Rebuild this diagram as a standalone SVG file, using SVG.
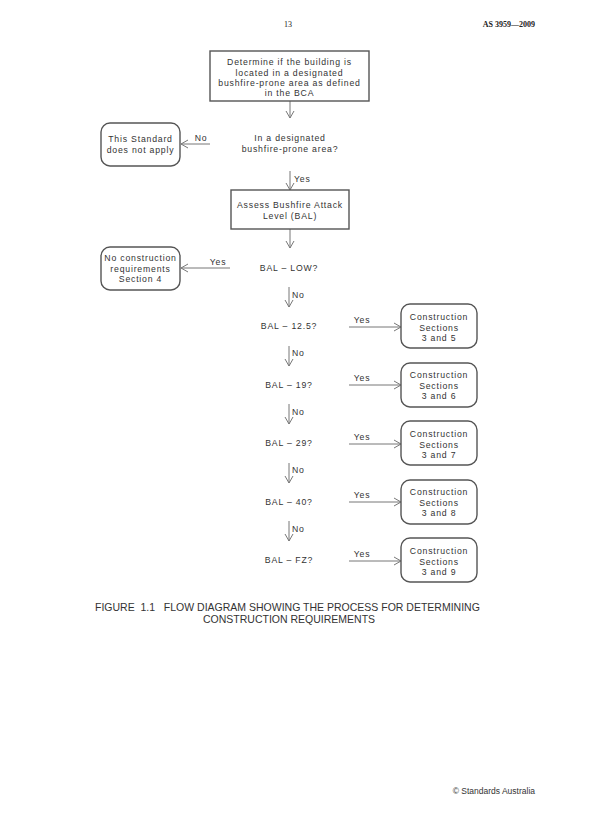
<svg xmlns="http://www.w3.org/2000/svg" width="600" height="823" viewBox="0 0 600 823">
<style>
.t{font-family:"Liberation Sans",Arial,sans-serif;font-size:8.7px;fill:#333;text-anchor:middle;letter-spacing:0.8px}
.s{text-anchor:start}
.box{fill:#fff;stroke:#555;stroke-width:1.4}
.rbox{fill:#fff;stroke:#555;stroke-width:1.4}
.c{stroke:#777;stroke-width:1;fill:none}
.hd{font-family:"Liberation Serif","Times New Roman",serif;font-size:8px;fill:#222}
.cap{font-family:"Liberation Sans",Arial,sans-serif;font-size:10.5px;fill:#333}
</style>
<defs>
<marker id="ah" markerWidth="10" markerHeight="10" refX="8" refY="5" orient="auto" markerUnits="userSpaceOnUse">
<path d="M1,1 L8,5 L1,9" fill="none" stroke="#777" stroke-width="1"/>
</marker>
</defs>
<rect width="600" height="823" fill="#fff"/>
<text class="hd" x="288" y="27" text-anchor="middle">13</text>
<text class="hd" x="535" y="27" text-anchor="end" font-weight="bold">AS 3959—2009</text>

<g id="connectors">
<line class="c" x1="290" y1="101" x2="290" y2="118" marker-end="url(#ah)"/>
<line class="c" x1="210" y1="144" x2="181" y2="144" marker-end="url(#ah)"/>
<line class="c" x1="290" y1="171" x2="290" y2="190" marker-end="url(#ah)"/>
<line class="c" x1="290" y1="229" x2="290" y2="248" marker-end="url(#ah)"/>
<line class="c" x1="230" y1="268" x2="181" y2="268" marker-end="url(#ah)"/>
<line class="c" x1="289" y1="287" x2="289" y2="307" marker-end="url(#ah)"/>
<line class="c" x1="289" y1="346" x2="289" y2="366" marker-end="url(#ah)"/>
<line class="c" x1="289" y1="404" x2="289" y2="424" marker-end="url(#ah)"/>
<line class="c" x1="289" y1="463" x2="289" y2="483" marker-end="url(#ah)"/>
<line class="c" x1="289" y1="521" x2="289" y2="541" marker-end="url(#ah)"/>
<line class="c" x1="349" y1="327" x2="401" y2="327" marker-end="url(#ah)"/>
<line class="c" x1="349" y1="385" x2="401" y2="385" marker-end="url(#ah)"/>
<line class="c" x1="349" y1="444" x2="401" y2="444" marker-end="url(#ah)"/>
<line class="c" x1="349" y1="502" x2="401" y2="502" marker-end="url(#ah)"/>
<line class="c" x1="349" y1="561" x2="401" y2="561" marker-end="url(#ah)"/>
<text class="t" x="201" y="141">No</text>
<text class="t s" x="294" y="182">Yes</text>
<text class="t" x="218" y="265">Yes</text>
<text class="t s" x="292" y="298">No</text>
<text class="t s" x="292" y="356">No</text>
<text class="t s" x="292" y="415">No</text>
<text class="t s" x="292" y="473">No</text>
<text class="t s" x="292" y="532">No</text>
<text class="t" x="362" y="323">Yes</text>
<text class="t" x="362" y="381">Yes</text>
<text class="t" x="362" y="440">Yes</text>
<text class="t" x="362" y="498">Yes</text>
<text class="t" x="362" y="557">Yes</text>
</g>

<g id="n1">
<rect class="box" x="210" y="51" width="159" height="50"/>
<text class="t" x="289.5" y="65">Determine if the building is</text>
<text class="t" x="289.5" y="75.5">located in a designated</text>
<text class="t" x="289.5" y="86">bushfire-prone area as defined</text>
<text class="t" x="289.5" y="96">in the BCA</text>
</g>
<g id="q1">
<text class="t" x="290" y="141">In a designated</text>
<text class="t" x="290" y="151.5">bushfire-prone area?</text>
</g>
<g id="n-notapply">
<rect class="rbox" x="101" y="123" width="79" height="43" rx="9"/>
<text class="t" x="140.5" y="142">This Standard</text>
<text class="t" x="140.5" y="152.5">does not apply</text>
</g>
<g id="n2">
<rect class="box" x="231" y="190" width="118" height="39"/>
<text class="t" x="290" y="208">Assess Bushfire Attack</text>
<text class="t" x="290" y="219">Level (BAL)</text>
</g>
<g id="q-low">
<text class="t" x="289" y="271">BAL – LOW?</text>
</g>
<g id="n-noreq">
<rect class="rbox" x="101" y="247" width="79" height="43" rx="9"/>
<text class="t" x="140.5" y="261">No construction</text>
<text class="t" x="140.5" y="271.5">requirements</text>
<text class="t" x="140.5" y="282">Section 4</text>
</g>
<g id="q-125"><text class="t" x="289" y="329">BAL – 12.5?</text></g>
<g id="q-19"><text class="t" x="289" y="388">BAL – 19?</text></g>
<g id="q-29"><text class="t" x="289" y="446">BAL – 29?</text></g>
<g id="q-40"><text class="t" x="289" y="505">BAL – 40?</text></g>
<g id="q-fz"><text class="t" x="289" y="563">BAL – FZ?</text></g>

<g id="c5">
<rect class="rbox" x="401" y="304" width="76" height="44" rx="9"/>
<text class="t" x="439" y="320">Construction</text>
<text class="t" x="439" y="330.5">Sections</text>
<text class="t" x="439" y="341">3 and 5</text>
</g>
<g id="c6">
<rect class="rbox" x="401" y="363" width="76" height="44" rx="9"/>
<text class="t" x="439" y="378">Construction</text>
<text class="t" x="439" y="388.5">Sections</text>
<text class="t" x="439" y="399">3 and 6</text>
</g>
<g id="c7">
<rect class="rbox" x="401" y="421" width="76" height="44" rx="9"/>
<text class="t" x="439" y="437">Construction</text>
<text class="t" x="439" y="447.5">Sections</text>
<text class="t" x="439" y="458">3 and 7</text>
</g>
<g id="c8">
<rect class="rbox" x="401" y="480" width="76" height="44" rx="9"/>
<text class="t" x="439" y="495">Construction</text>
<text class="t" x="439" y="505.5">Sections</text>
<text class="t" x="439" y="516">3 and 8</text>
</g>
<g id="c9">
<rect class="rbox" x="401" y="538" width="76" height="44" rx="9"/>
<text class="t" x="439" y="554">Construction</text>
<text class="t" x="439" y="564.5">Sections</text>
<text class="t" x="439" y="575">3 and 9</text>
</g>

<text class="cap" x="95" y="611" xml:space="preserve">FIGURE  1.1   FLOW DIAGRAM SHOWING THE PROCESS FOR DETERMINING</text>
<text class="cap" x="203" y="623">CONSTRUCTION REQUIREMENTS</text>
<text x="535" y="794" text-anchor="end" style="font-family:'Liberation Sans',Arial,sans-serif;font-size:8.5px;fill:#333">© Standards Australia</text>
</svg>
